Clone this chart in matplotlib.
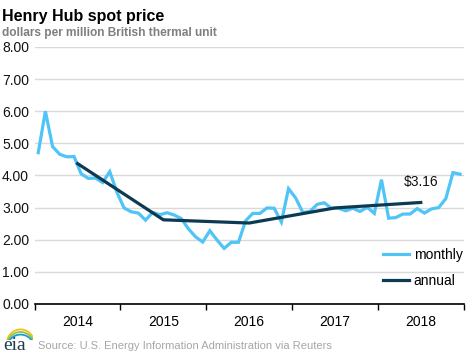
import numpy as np
import matplotlib.pyplot as plt
from matplotlib.patches import Arc

# ─── Data ─────────────────────────────────────────────────────────────────────
years = ["2014", "2015", "2016", "2017", "2018"]

monthly = [
    4.71, 6.00, 4.90, 4.66, 4.58, 4.59, 4.05, 3.91, 3.92, 3.78, 4.12, 3.48,  # 2014
    2.99, 2.87, 2.83, 2.61, 2.85, 2.78, 2.84, 2.77, 2.66, 2.34, 2.09, 1.93,  # 2015
    2.28, 1.99, 1.73, 1.92, 1.92, 2.59, 2.82, 2.82, 2.99, 2.98, 2.55, 3.59,  # 2016
    3.30, 2.85, 2.88, 3.10, 3.15, 2.98, 2.98, 2.90, 2.98, 2.88, 3.01, 2.82,  # 2017
    3.87, 2.67, 2.69, 2.80, 2.80, 2.97, 2.83, 2.96, 3.00, 3.28, 4.09, 4.04,  # 2018
]
annual = [4.37, 2.62, 2.52, 2.99, 3.16]

y_ticks = np.arange(0, 9, 1)

MONTHLY_C = "#4FC4F6"
ANNUAL_C  = "#0C3A52"

# ─── Figure ───────────────────────────────────────────────────────────────────
plt.rcParams["font.family"] = ["Liberation Sans", "DejaVu Sans"]
fig = plt.figure(figsize=(4.68, 3.6), dpi=100)
ax = fig.add_axes([0.0741, 0.1556, 0.9167, 0.7139])

x_month = np.arange(len(monthly)) + 0.5
x_year  = np.arange(len(annual)) * 12 + 6

ax.plot(x_month, monthly, color=MONTHLY_C, lw=2.3, label="monthly", solid_joinstyle="miter")
ax.plot(x_year, annual, color=ANNUAL_C, lw=2.3, label="annual")

ax.text(x_year[-1] - 2.4, annual[-1] + 0.65, f"${annual[-1]:.2f}",
        fontsize=10, color="#111111", ha="left", va="center")

ax.set_xlim(0, 60)
ax.set_ylim(0, 8)
ax.set_yticks(y_ticks)
ax.set_yticklabels([f"{v:.2f}" for v in y_ticks])
ax.yaxis.grid(True, color="#D9D9D9", lw=1)
ax.set_axisbelow(True)
ax.tick_params(axis="y", length=0, pad=4, labelsize=10, labelcolor="#111111")

ax.set_xticks(np.arange(0, 61, 12))
ax.set_xticklabels([])
ax.set_xticks(x_year, minor=True)
ax.set_xticklabels(years, minor=True)
ax.tick_params(axis="x", which="major", length=4, width=1, color="black", direction="out")
ax.tick_params(axis="x", which="minor", length=0, pad=8, labelsize=10)

for s in ["top", "right", "left"]:
    ax.spines[s].set_visible(False)
ax.spines["bottom"].set_color("black")
ax.spines["bottom"].set_linewidth(1.2)

ax.legend(loc="lower left", bbox_to_anchor=(0.812, 0.062), frameon=False,
          borderpad=0, borderaxespad=0, fontsize=10, handlelength=1.9,
          handletextpad=0.3, labelspacing=0.85)

# ─── Titles and source ────────────────────────────────────────────────────────
fig.text(0.004, 0.975, "Henry Hub spot price", fontsize=11.5, fontweight="bold",
         ha="left", va="top", color="black")
fig.text(0.004, 0.925, "dollars per million British thermal unit", fontsize=8.6,
         fontweight="bold", ha="left", va="top", color="#7F7F7F")
fig.text(0.081, 0.024, "Source: U.S. Energy Information Administration via Reuters",
         fontsize=8, ha="left", va="bottom", color="#A6A6A6")

# eia logo
fig.text(0.008, 0.016, "eia", fontsize=14, family="Liberation Serif",
         color="#1F3B55", ha="left", va="bottom")
lax = fig.add_axes([0.012, 0.055, 0.058, 0.04])
lax.set_xlim(0, 1); lax.set_ylim(0, 1); lax.axis("off")
for c, dy in [("#F2C01E", 0.0), ("#8DC63F", -0.18), ("#1B9BD7", -0.36)]:
    lax.add_patch(Arc((0.55, -0.2 + dy), 1.0, 1.9, theta1=25, theta2=165, color=c, lw=1.3))

plt.savefig("out.png", dpi=100)
